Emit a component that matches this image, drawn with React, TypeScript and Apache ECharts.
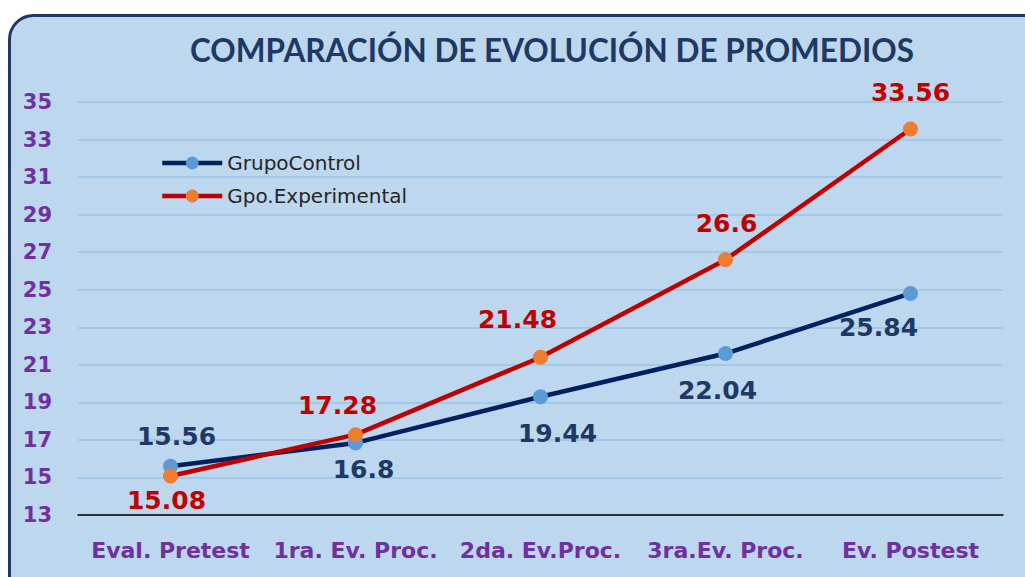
import React, { useEffect, useRef } from "react";
import * as echarts from "echarts";

const categories = ["Eval. Pretest", "1ra. Ev. Proc.", "2da. Ev.Proc.", "3ra.Ev. Proc.", "Ev. Postest"];
const controlValues = [15.6, 16.84, 19.3, 21.6, 24.8];
const controlLabels = ["15.56", "16.8", "19.44", "22.04", "25.84"];
const experimentalValues = [15.08, 17.28, 21.4, 26.6, 33.56];
const experimentalLabels = ["15.08", "17.28", "21.48", "26.6", "33.56"];
const yTicks = [13, 15, 17, 19, 21, 23, 25, 27, 29, 31, 33, 35];

const TITLE_FONT = "Lato, 'Open Sans', sans-serif";
const FONT = "'DejaVu Sans', Verdana, sans-serif";

const controlPlacement: [string, number, number][] = [
  ["top", 6, -5],
  ["bottom", 8, 2],
  ["bottom", 17, 12],
  ["bottom", -8, 12],
  ["bottom", -32, 9],
];
const experimentalPlacement: [string, number, number][] = [
  ["bottom", -4, 0],
  ["top", -18, -4],
  ["top", -23, -13],
  ["top", 1, -11],
  ["top", 0, -12],
];

export default function App() {
  const ref = useRef<HTMLDivElement>(null);
  useEffect(() => {
    if (!ref.current) return;
    const chart = echarts.init(ref.current, undefined, { renderer: "svg" });
    const mk = (vals: number[], labels: string[], place: [string, number, number][], color: string) =>
      vals.map((v, i) => ({
        value: v,
        label: {
          show: true,
          position: place[i][0],
          offset: [place[i][1], place[i][2]],
          formatter: () => labels[i],
          color,
          fontSize: 25,
          fontWeight: "bold",
          fontFamily: FONT,
        },
      }));
    chart.setOption({
      animation: false,
      backgroundColor: "#ffffff",
      graphic: {
        elements: [
          {
            type: "rect",
            z: -100,
            silent: true,
            shape: { x: 9.5, y: 15.5, width: 1050, height: 620, r: 24 },
            style: { fill: "#BDD7EE", stroke: "#1F3864", lineWidth: 3 },
          },
        ],
      },
      title: {
        text: "COMPARACIÓN DE EVOLUCIÓN DE PROMEDIOS",
        left: 547,
        top: 29,
        textAlign: "center",
        textStyle: { color: "#1F3864", fontSize: 31.5, fontWeight: "bold", fontFamily: TITLE_FONT },
      },
      legend: {
        orient: "vertical",
        left: 155,
        top: 148,
        itemWidth: 60,
        itemHeight: 16,
        itemGap: 13,
        lineStyle: { width: 4.5 },
        textStyle: { color: "#262626", fontSize: 20, fontFamily: FONT, padding: [0, 0, 0, 0] },
        data: ["GrupoControl", "Gpo.Experimental"],
      },
      grid: { left: 78, right: 22, top: 102, bottom: 62, containLabel: false },
      xAxis: {
        type: "category",
        data: categories,
        boundaryGap: true,
        axisLine: { lineStyle: { color: "#000000", width: 1.5 } },
        axisTick: { show: false },
        axisLabel: { interval: 0, color: "#7030A0", fontSize: 22, fontWeight: "bold", fontFamily: FONT, margin: 24 },
      },
      yAxis: {
        type: "value",
        min: yTicks[0],
        max: yTicks[yTicks.length - 1],
        interval: 2,
        axisLine: { show: false },
        axisTick: { show: false },
        splitLine: { lineStyle: { color: "#9DC3E6", width: 1.5 } },
        axisLabel: { color: "#7030A0", fontSize: 21, fontWeight: "bold", fontFamily: FONT, margin: 26 },
      },
      series: [
        {
          name: "GrupoControl",
          type: "line",
          data: mk(controlValues, controlLabels, controlPlacement, "#1F3864"),
          symbol: "circle",
          symbolSize: 15,
          lineStyle: { color: "#002060", width: 4.5 },
          itemStyle: { color: "#5B9BD5" },
          z: 3,
        },
        {
          name: "Gpo.Experimental",
          type: "line",
          data: mk(experimentalValues, experimentalLabels, experimentalPlacement, "#C00000"),
          symbol: "circle",
          symbolSize: 15,
          lineStyle: { color: "#C00000", width: 4.5 },
          itemStyle: { color: "#ED7D31" },
          z: 4,
        },
      ],
    });
    return () => chart.dispose();
  }, []);
  return (
    <div style={{ position: "fixed", left: 0, top: 0, width: 1025, height: 577, background: "#fff" }}>
      <div ref={ref} style={{ width: 1025, height: 577 }} />
    </div>
  );
}
